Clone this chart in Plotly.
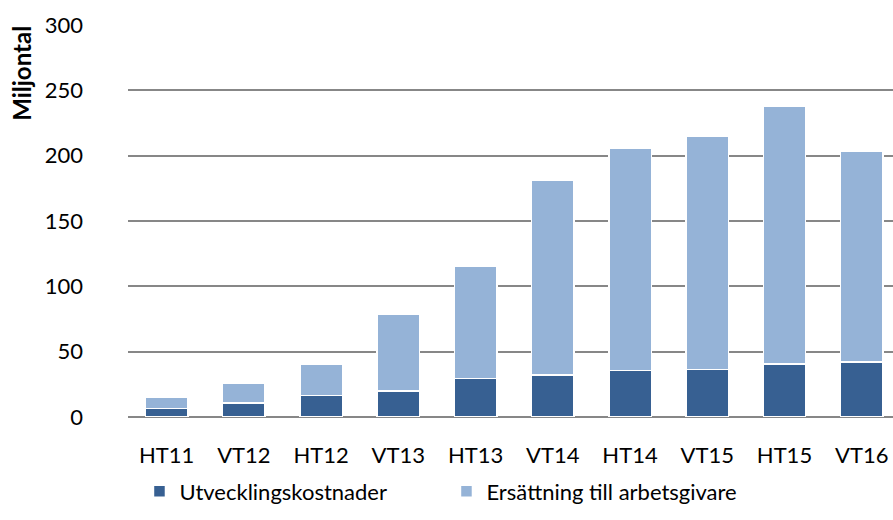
import plotly.graph_objects as go

kategorier = ["HT11", "VT12", "HT12", "VT13", "HT13", "VT14", "HT14", "VT15", "HT15", "VT16"]
utveckling = [6.5, 10.7, 16.5, 20, 29.5, 32, 35.5, 36.5, 40.5, 42]
ersattning = [8.5, 15.3, 23.5, 59, 86, 149, 170, 178, 197, 161.5]

MORK = "#376092"
LJUS = "#95b3d7"
TEXT = "#000000"
FONT = "Lato"

fig = go.Figure()

fig.add_trace(
    go.Bar(
        x=kategorier,
        y=utveckling,
        name="Utvecklingskostnader",
        marker=dict(color=MORK, line=dict(color="white", width=1.5)),
    )
)
fig.add_trace(
    go.Bar(
        x=kategorier,
        y=ersattning,
        name="Ersättning till arbetsgivare",
        marker=dict(color=LJUS, line=dict(color="white", width=1.5)),
    )
)

fig.update_layout(
    width=893,
    height=520,
    barmode="stack",
    bargap=0.45,
    paper_bgcolor="white",
    plot_bgcolor="white",
    font=dict(family=FONT, size=22, color=TEXT),
    margin=dict(l=128, r=0, t=25, b=103),
    showlegend=True,
    legend=dict(
        orientation="h",
        x=0.015,
        xanchor="left",
        y=-0.19,
        yanchor="middle",
        traceorder="normal",
        entrywidth=262,
        entrywidthmode="pixels",
        font=dict(family=FONT, size=22, color=TEXT),
    ),
    xaxis=dict(
        range=[-0.5, 9.405],
        showgrid=False,
        showline=False,
        ticks="",
        tickfont=dict(family=FONT, size=22, color=TEXT),
        ticklabelstandoff=23,
    ),
    yaxis=dict(
        range=[0, 300],
        dtick=50,
        showgrid=True,
        gridcolor="#878787",
        gridwidth=1.5,
        zeroline=True,
        zerolinecolor="#878787",
        zerolinewidth=1.5,
        showline=False,
        ticks="",
        tickfont=dict(family=FONT, size=22, color=TEXT),
        ticklabelstandoff=44,
    ),
    annotations=[
        dict(
            text="<b>Miljontal</b>",
            textangle=-90,
            xref="paper",
            yref="paper",
            x=-0.1386,
            y=0.878,
            xanchor="center",
            yanchor="middle",
            showarrow=False,
            font=dict(family=FONT, size=24, color=TEXT),
        )
    ],
)

# sidan ska inte ha marginal runt diagrammet
fig.write_html(
    "out.html",
    config={"displayModeBar": False},
    post_script="document.body.style.margin='0';",
)
